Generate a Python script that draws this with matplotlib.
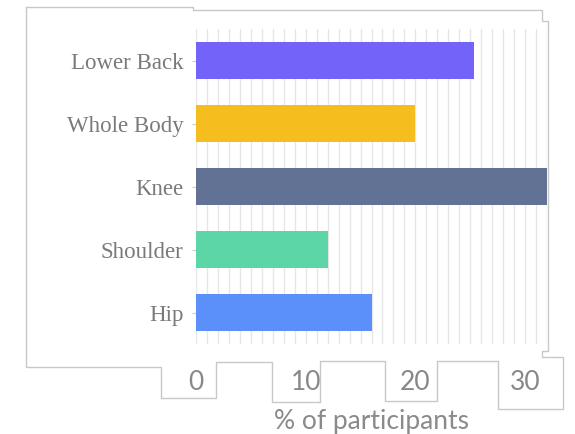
import matplotlib
matplotlib.use("Agg")
import matplotlib.pyplot as plt
from matplotlib.lines import Line2D
import numpy as np

categories = ["Lower Back", "Whole Body", "Knee", "Shoulder", "Hip"]
values = [25.3, 20.0, 32.0, 12.0, 16.0]
colors = ["#7363F8", "#F5BD1E", "#627294", "#5CD6A7", "#5B8FF9"]
xticks = [0, 10, 20, 30]
xlabel = "% of participants"

W, H = 575, 435
fig = plt.figure(figsize=(W / 100, H / 100), dpi=100)
fig.patch.set_facecolor("white")

ax = fig.add_axes([196 / W, 1 - 345 / H, (547 - 196) / W, (345 - 30) / H])
y = np.arange(len(categories))[::-1]
ax.barh(y, values, height=0.59, color=colors, zorder=3)
ax.set_xlim(0, 32)
ax.set_ylim(-0.5, len(categories) - 0.5)

ax.set_yticks(y)
ax.set_yticklabels(categories, family="Liberation Serif", fontsize=16.5, color="#7a7a7a")
ax.set_xticks(xticks)
ax.set_xticklabels([str(t) for t in xticks], family="Lato", fontsize=19, color="#888888")
ax.set_xticks(np.arange(0, 33, 1), minor=True)
ax.tick_params(axis="y", length=3, color="#cccccc", pad=6)
ax.tick_params(axis="x", which="both", length=0, pad=18)
ax.grid(True, axis="x", which="both", color="#e6e6e6", linewidth=1, zorder=0)
ax.set_axisbelow(True)
for s in ax.spines.values():
    s.set_visible(False)

ax.set_xlabel(xlabel, family="Lato", fontsize=19, color="#8a8a8a", labelpad=10)

# outline of the captured region (screenshot frame)
pts = [(26, 8), (193, 8), (193, 11), (542, 11), (542, 22), (548, 22), (548, 352),
       (542, 352), (542, 358), (563, 358), (563, 410), (498, 410), (498, 362),
       (437, 362), (437, 402), (385, 402), (385, 362), (320, 362), (320, 403),
       (272, 403), (272, 363), (216, 363), (216, 399), (161, 399), (161, 368),
       (26, 368), (26, 8)]
xs = [p[0] / W for p in pts]
ys = [1 - p[1] / H for p in pts]
fig.add_artist(Line2D(xs, ys, transform=fig.transFigure, color="#c8c8c8", linewidth=1))

fig.savefig("out.png", dpi=100)
